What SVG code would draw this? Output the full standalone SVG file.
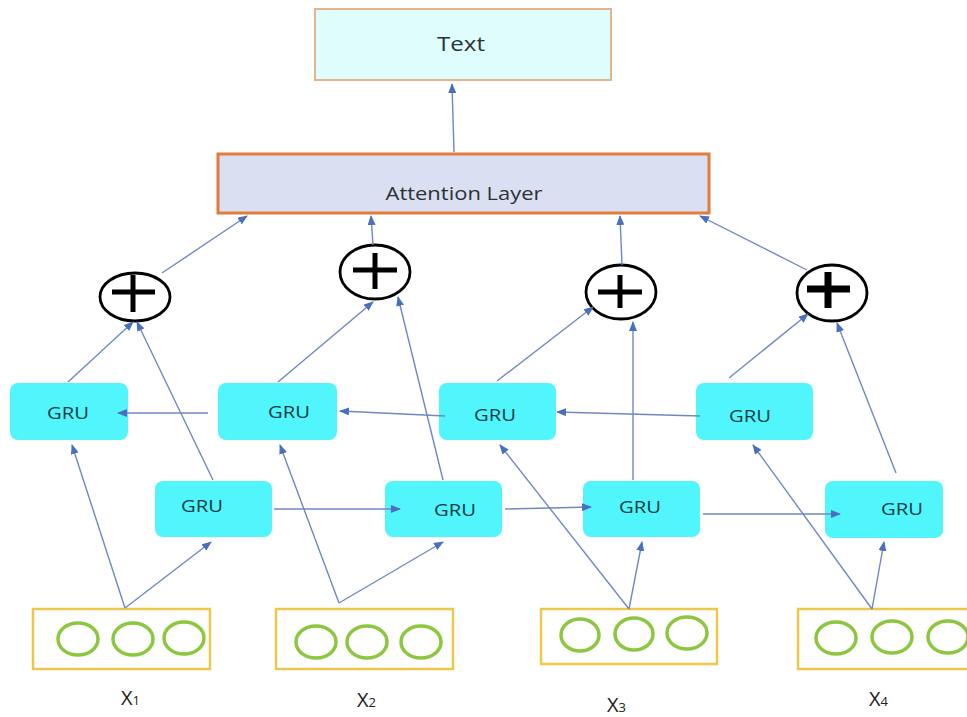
<svg xmlns="http://www.w3.org/2000/svg" width="967" height="717" viewBox="0 0 967 717">
  <style>
    .lbl { font-family: "Open Sans", "Noto Sans", "Liberation Sans", sans-serif; fill: #2a3236; }
    .gru rect { fill: #50f6fb; }
    .gru text { font-size: 17px; text-anchor: middle; fill: #0f3c42; }
    .plus ellipse { fill: #ffffff; stroke: #000000; stroke-width: 2.8; }
    .plus path { stroke: #000000; stroke-width: 5; fill: none; }
    .inp rect { fill: #ffffff; stroke: #ecc94b; stroke-width: 2.5; }
    .inp ellipse { fill: none; stroke: #8dc63f; stroke-width: 3.5; }
    .conn line { stroke: #7088c2; stroke-width: 1.4; marker-end: url(#ah); }
    .xl { font-family: "Open Sans", "Liberation Sans", sans-serif; font-size: 20px; fill: #222; }
    .sub { font-size: 13px; }
  </style>
  <defs>
    <marker id="ah" markerWidth="10" markerHeight="8" refX="9" refY="4" orient="auto" markerUnits="userSpaceOnUse">
      <path d="M0,0 L10,4 L0,8 Z" fill="#4a6fc0"/>
    </marker>
  </defs>

  <rect width="967" height="717" fill="#ffffff"/>

  <!-- output box -->
  <g id="text-out">
    <rect x="315" y="9" width="296" height="71" fill="#e0fdfd" stroke="#e3b58f" stroke-width="2"/>
    <text class="lbl" x="461" y="51" font-size="20" text-anchor="middle" textLength="48" lengthAdjust="spacingAndGlyphs">Text</text>
  </g>

  <!-- attention layer -->
  <g id="attention">
    <rect x="218" y="154" width="491" height="59" fill="#dadff1" stroke="#e27c3a" stroke-width="3"/>
    <text class="lbl" x="464" y="200" font-size="18" text-anchor="middle" textLength="157" lengthAdjust="spacingAndGlyphs">Attention Layer</text>
  </g>

  <!-- sum nodes -->
  <g id="plus1" class="plus">
    <ellipse cx="135" cy="297" rx="35" ry="24"/>
    <path d="M112,292 H155 M133,275 V312"/>
  </g>
  <g id="plus2" class="plus">
    <ellipse cx="375" cy="272" rx="35" ry="27"/>
    <path d="M353,270 H397 M375,253 V289"/>
  </g>
  <g id="plus3" class="plus">
    <ellipse cx="621" cy="292" rx="35" ry="27"/>
    <path d="M598,292 H642 M620,275 V308"/>
  </g>
  <g id="plus4" class="plus">
    <ellipse cx="832" cy="293" rx="35" ry="28"/>
    <path d="M807,289 H850 M828,272 V308" style="stroke-width:7"/>
  </g>

  <!-- backward GRU row -->
  <g id="gru-b1" class="gru">
    <rect x="10" y="383" width="118" height="57" rx="8"/>
    <text class="lbl" x="68" y="419" textLength="42" lengthAdjust="spacingAndGlyphs">GRU</text>
  </g>
  <g id="gru-b2" class="gru">
    <rect x="218" y="383" width="119" height="57" rx="8"/>
    <text class="lbl" x="289" y="418" textLength="42" lengthAdjust="spacingAndGlyphs">GRU</text>
  </g>
  <g id="gru-b3" class="gru">
    <rect x="439" y="383" width="117" height="57" rx="8"/>
    <text class="lbl" x="495" y="421" textLength="42" lengthAdjust="spacingAndGlyphs">GRU</text>
  </g>
  <g id="gru-b4" class="gru">
    <rect x="696" y="383" width="117" height="57" rx="8"/>
    <text class="lbl" x="750" y="422" textLength="42" lengthAdjust="spacingAndGlyphs">GRU</text>
  </g>

  <!-- forward GRU row -->
  <g id="gru-f1" class="gru">
    <rect x="155" y="481" width="117" height="56" rx="8"/>
    <text class="lbl" x="202" y="512" textLength="42" lengthAdjust="spacingAndGlyphs">GRU</text>
  </g>
  <g id="gru-f2" class="gru">
    <rect x="385" y="481" width="117" height="56" rx="8"/>
    <text class="lbl" x="455" y="516" textLength="42" lengthAdjust="spacingAndGlyphs">GRU</text>
  </g>
  <g id="gru-f3" class="gru">
    <rect x="583" y="481" width="117" height="56" rx="8"/>
    <text class="lbl" x="640" y="513" textLength="42" lengthAdjust="spacingAndGlyphs">GRU</text>
  </g>
  <g id="gru-f4" class="gru">
    <rect x="825" y="481" width="118" height="57" rx="8"/>
    <text class="lbl" x="902" y="515" textLength="42" lengthAdjust="spacingAndGlyphs">GRU</text>
  </g>

  <!-- input vectors -->
  <g id="x1" class="inp">
    <rect x="33" y="609" width="177" height="60"/>
    <ellipse cx="78" cy="639" rx="20" ry="16"/>
    <ellipse cx="133" cy="639" rx="20" ry="16"/>
    <ellipse cx="184" cy="638" rx="20" ry="16"/>
    <text class="xl" x="121" y="705">X<tspan class="sub">1</tspan></text>
  </g>
  <g id="x2" class="inp">
    <rect x="276" y="609" width="177" height="60"/>
    <ellipse cx="316" cy="642" rx="20" ry="16"/>
    <ellipse cx="367" cy="642" rx="20" ry="16"/>
    <ellipse cx="421" cy="642" rx="20" ry="16"/>
    <text class="xl" x="357" y="707">X<tspan class="sub">2</tspan></text>
  </g>
  <g id="x3" class="inp">
    <rect x="541" y="609" width="176" height="55"/>
    <ellipse cx="580" cy="635" rx="19" ry="16"/>
    <ellipse cx="634" cy="634" rx="19" ry="16"/>
    <ellipse cx="687" cy="633" rx="20" ry="16"/>
    <text class="xl" x="607" y="712">X<tspan class="sub">3</tspan></text>
  </g>
  <g id="x4" class="inp">
    <rect x="798" y="609" width="180" height="60"/>
    <ellipse cx="836" cy="638" rx="20" ry="16"/>
    <ellipse cx="892" cy="637" rx="20" ry="16"/>
    <ellipse cx="948" cy="637" rx="20" ry="16"/>
    <text class="xl" x="869" y="706">X<tspan class="sub">4</tspan></text>
  </g>

  <!-- connectors -->
  <g id="connectors" class="conn">
    <!-- attention to output -->
    <line x1="454" y1="152" x2="452" y2="84"/>
    <!-- sums to attention -->
    <line x1="162" y1="273" x2="247" y2="216"/>
    <line x1="373" y1="245" x2="371" y2="216"/>
    <line x1="622" y1="265" x2="620" y2="216"/>
    <line x1="807" y1="270" x2="700" y2="216"/>
    <!-- GRUs to sums -->
    <line x1="68" y1="382" x2="133" y2="322"/>
    <line x1="213" y1="480" x2="137" y2="322"/>
    <line x1="278" y1="382" x2="373" y2="302"/>
    <line x1="443" y1="480" x2="398" y2="297"/>
    <line x1="497" y1="381" x2="593" y2="307"/>
    <line x1="633" y1="480" x2="633" y2="322"/>
    <line x1="729" y1="378" x2="808" y2="314"/>
    <line x1="896" y1="473" x2="837" y2="323"/>
    <!-- backward recurrence -->
    <line x1="208" y1="413" x2="118" y2="413"/>
    <line x1="445" y1="416" x2="340" y2="411"/>
    <line x1="700" y1="416" x2="557" y2="412"/>
    <!-- forward recurrence -->
    <line x1="274" y1="509" x2="400" y2="509"/>
    <line x1="505" y1="509" x2="591" y2="507"/>
    <line x1="703" y1="514" x2="840" y2="514"/>
    <!-- inputs to GRUs -->
    <line x1="125" y1="608" x2="72" y2="445"/>
    <line x1="125" y1="608" x2="211" y2="542"/>
    <line x1="339" y1="603" x2="280" y2="445"/>
    <line x1="339" y1="603" x2="443" y2="542"/>
    <line x1="629" y1="609" x2="500" y2="445"/>
    <line x1="629" y1="609" x2="642" y2="542"/>
    <line x1="872" y1="609" x2="753" y2="445"/>
    <line x1="872" y1="609" x2="884" y2="542"/>
  </g>
</svg>
